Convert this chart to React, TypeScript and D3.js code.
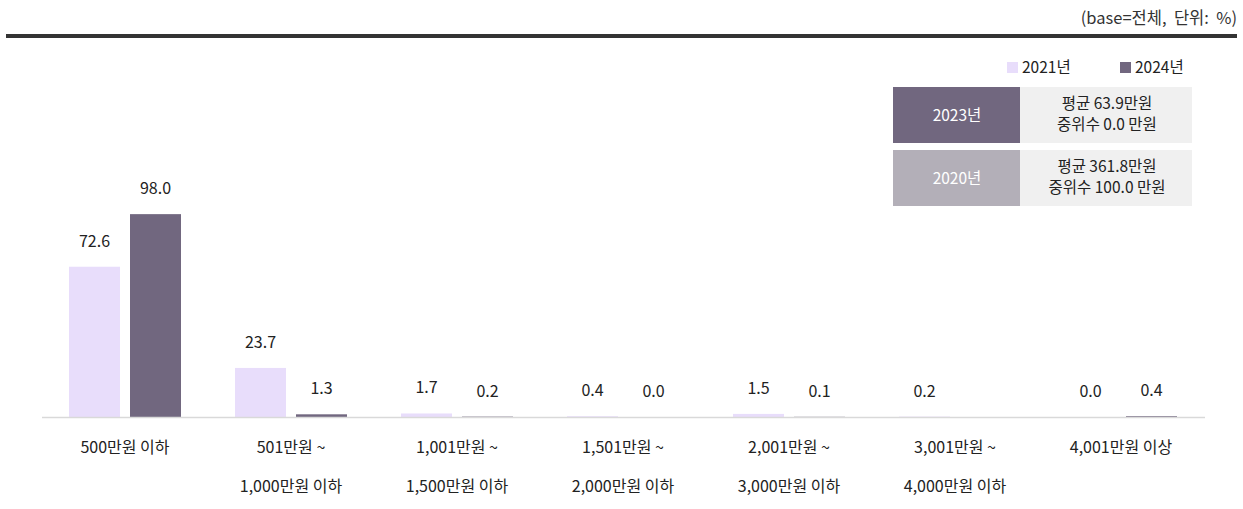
import React from "react";
import * as d3 from "d3";

const categories: string[][] = [
  ["500만원 이하"],
  ["501만원 ~", "1,000만원 이하"],
  ["1,001만원 ~", "1,500만원 이하"],
  ["1,501만원 ~", "2,000만원 이하"],
  ["2,001만원 ~", "3,000만원 이하"],
  ["3,001만원 ~", "4,000만원 이하"],
  ["4,001만원 이상"],
];
const seriesNames = ["2021년", "2024년"];
const values2021: (number | null)[] = [72.6, 23.7, 1.7, 0.4, 1.5, 0.2, 0.0];
const values2024: (number | null)[] = [98.0, 1.3, 0.2, 0.0, 0.1, null, 0.4];
const seriesColors = ["#e8ddfb", "#71677f"];

const summaryYears = ["2023년", "2020년"];
const summaryLines = [
  ["평균 63.9만원", "중위수 0.0 만원"],
  ["평균 361.8만원", "중위수 100.0 만원"],
];
const summaryColors = ["#71677f", "#b3afb8"];

const W = 1243;
const H = 509;
const FONT = "'Noto Sans CJK KR', 'Noto Sans', sans-serif";

export default function App() {
  const keys = categories.map((_, i) => String(i));
  const x0 = d3.scaleBand<string>().domain(keys).range([42, 1204]).padding(0);
  const x1 = d3
    .scaleBand<string>()
    .domain(seriesNames)
    .range([27, x0.bandwidth() - 27])
    .paddingInner(0.164)
    .paddingOuter(0);
  const y = d3.scaleLinear().domain([0, 100]).range([417, 210]);
  const series = [values2021, values2024];

  return (
    <svg
      width={W}
      height={H}
      style={{ position: "absolute", left: 0, top: 0, background: "#fff" }}
      fontFamily={FONT}
    >
      <text
        x={1237}
        y={24}
        textAnchor="end"
        fontSize={16.5}
        fill="#333"
        style={{ whiteSpace: "pre" }}
      >
        {"(base=전체,  단위:  %)"}
      </text>
      <rect x={6} y={34} width={1231} height={4} fill="#333" />

      {/* legend */}
      {seriesNames.map((s, i) => {
        const lx = [1007, 1120][i];
        return (
          <g key={s}>
            <rect x={lx} y={62} width={11} height={11} fill={seriesColors[i]} />
            <text x={lx + 15} y={73} fontSize={15.5} fill="#222">
              {s}
            </text>
          </g>
        );
      })}

      {/* summary boxes */}
      {summaryYears.map((yr, i) => {
        const by = 87 + i * 63;
        return (
          <g key={yr}>
            <rect x={893} y={by} width={127} height={56} fill={summaryColors[i]} />
            <rect x={1020} y={by} width={172} height={56} fill="#f0f0f0" />
            <text x={957} y={by + 34} textAnchor="middle" fontSize={15.5} fill="#fff">
              {yr}
            </text>
            {summaryLines[i].map((ln, j) => (
              <text
                key={j}
                x={1107}
                y={by + 22 + j * 21}
                textAnchor="middle"
                fontSize={15.5}
                fill="#222"
              >
                {ln}
              </text>
            ))}
          </g>
        );
      })}

      {/* bars */}
      {keys.map((k, ci) => (
        <g key={k} transform={`translate(${x0(k)},0)`}>
          {seriesNames.map((s, si) => {
            const v = series[si][ci];
            if (v === null) return null;
            const bx = x1(s)!;
            return (
              <g key={s}>
                <rect
                  x={bx}
                  y={y(v)}
                  width={x1.bandwidth()}
                  height={y(0) - y(v)}
                  fill={seriesColors[si]}
                />
                <text
                  x={bx + x1.bandwidth() / 2}
                  y={y(v) - 20}
                  textAnchor="middle"
                  fontSize={16}
                  fill="#222"
                >
                  {v.toFixed(1)}
                </text>
              </g>
            );
          })}
        </g>
      ))}

      <line x1={42} x2={1205} y1={417.5} y2={417.5} stroke="#d9d9d9" strokeWidth={1.5} />

      {/* x labels */}
      {keys.map((k, ci) => (
        <g key={k}>
          {categories[ci].map((ln, j) => (
            <text
              key={j}
              x={x0(k)! + x0.bandwidth() / 2}
              y={453 + j * 39}
              textAnchor="middle"
              fontSize={16}
              fill="#222"
            >
              {ln}
            </text>
          ))}
        </g>
      ))}
    </svg>
  );
}
